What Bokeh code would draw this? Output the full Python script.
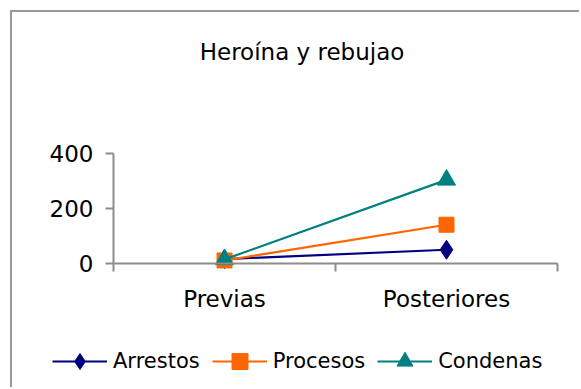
from bokeh.plotting import figure
from bokeh.models import FixedTicker, LinearAxis, Range1d, Legend, LegendItem, Label
from bokeh.embed import file_html
from bokeh.resources import INLINE

title = "Heroína y rebujao"
categories = ["Previas", "Posteriores"]
arrestos = [16, 50]
procesos = [11, 141]
condenas = [15, 304]
y_ticks = [0, 200, 400]
y_max = 400

FONT = "DejaVu Sans"
GRAY = "#8c8c8c"

# canvas layout (pixels): plotting area inside the canvas
W, H = 569, 377
AREA_L, AREA_R, AREA_T, AREA_B = 101, 545, 141, 251
n = len(categories)
ppx = (AREA_R - AREA_L) / n
ppy = (AREA_B - AREA_T) / y_max
x_rng = Range1d(-AREA_L / ppx, n + (W - AREA_R) / ppx)
y_rng = Range1d(-(H - AREA_B) / ppy, y_max + AREA_T / ppy)

xs = [i + 0.5 for i in range(n)]

p = figure(width=W, height=H, output_backend="svg", toolbar_location=None,
           x_range=x_rng, y_range=y_rng, min_border=0,
           x_axis_type=None, y_axis_type=None)
p.margin = (12, 0, 0, 12)
p.styles = {"box-shadow": "-2px -2px 0 0 #999999"}
p.outline_line_color = None
p.background_fill_color = "white"
p.border_fill_color = "white"

# y axis
yax = LinearAxis(ticker=FixedTicker(ticks=y_ticks, minor_ticks=[]), fixed_location=0,
                 bounds=(0, y_max))
yax.axis_line_color = GRAY
yax.axis_line_width = 2
yax.major_tick_line_color = GRAY
yax.major_tick_line_width = 2
yax.major_tick_out = 8
yax.major_tick_in = 0
yax.minor_tick_line_color = None
yax.major_label_text_font = FONT
yax.major_label_text_font_size = "23px"
yax.major_label_text_color = "black"
yax.major_label_standoff = 12
p.add_layout(yax, "left")

# x axis: labels at category centres, ticks at category boundaries
xax = LinearAxis(ticker=FixedTicker(ticks=xs, minor_ticks=list(range(n + 1))),
                 fixed_location=0, bounds=(0, n))
xax.major_label_overrides = {x: c for x, c in zip(xs, categories)}
xax.axis_line_color = GRAY
xax.axis_line_width = 2
xax.major_tick_line_color = None
xax.major_tick_out = 8
xax.major_tick_in = 0
xax.minor_tick_line_color = GRAY
xax.minor_tick_line_width = 2
xax.minor_tick_out = 8
xax.minor_tick_in = 0
xax.major_label_text_font = FONT
xax.major_label_text_font_size = "23px"
xax.major_label_text_color = "black"
xax.major_label_standoff = 14
p.add_layout(xax, "below")

p.ygrid.grid_line_color = GRAY
p.ygrid.grid_line_width = 2
p.ygrid.ticker = FixedTicker(ticks=y_ticks)
p.ygrid.bounds = (0, y_max)
p.ygrid.cross_bounds = (0, n)
p.xgrid.grid_line_color = None

series = [("Arrestos", arrestos, "#000080", "diamond", 19),
          ("Procesos", procesos, "#FF6600", "square", 15),
          ("Condenas", condenas, "#008080", "triangle", 18)]

items = []
for name, vals, color, mk, sz in series:
    ln = p.line(xs, vals, line_color=color, line_width=2.2)
    sc = p.scatter(xs, vals, marker=mk, size=sz, fill_color=color, line_color=color)
    items.append(LegendItem(label=name, renderers=[ln, sc]))

legend = Legend(items=items, location=(40, 8), orientation="horizontal",
                glyph_width=55, glyph_height=40, label_standoff=6, spacing=12,
                padding=0, margin=0, border_line_color=None, background_fill_alpha=0,
                label_text_font=FONT, label_text_font_size="21px", label_text_color="black")
p.add_layout(legend, "center")

p.add_layout(Label(x=289.5, y=H - 39, x_units="screen", y_units="screen", text=title,
                   text_font=FONT, text_font_size="23px", text_align="center",
                   text_baseline="alphabetic", text_color="black"))

open("out.html", "w").write(file_html(p, INLINE))
